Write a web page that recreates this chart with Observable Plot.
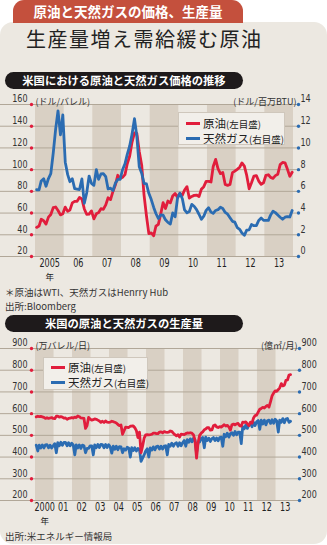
<!DOCTYPE html>
<html lang="ja">
<head>
<meta charset="utf-8">
<script src="https://cdn.jsdelivr.net/npm/d3@7"></script>
<script src="https://cdn.jsdelivr.net/npm/@observablehq/plot@0.6"></script>
<style>
  html, body { margin:0; padding:0; background:#ffffff; }
  #root { position:relative; width:327px; height:545px; overflow:hidden; font-family:"Noto Sans CJK JP","Noto Sans",sans-serif; color:#222; }
  .panel { position:absolute; left:0; top:22px; width:327px; height:522px; background:#ece8e1; border-radius:13px; }
  .tab { position:absolute; left:13px; top:0; width:230px; height:23px; background:#c4503d; border-radius:11px 11px 0 0; color:#fff; font-weight:700; font-size:13.5px; line-height:22px; text-align:center; white-space:nowrap; }
  .headline { position:absolute; left:26px; top:26px; font-size:20px; letter-spacing:1.5px; color:#222; white-space:nowrap; line-height:26px; }
  .pill { position:absolute; left:5px; width:238px; height:17px; background:#1e1a1b; border-radius:9px; color:#fff; font-weight:700; font-size:11.3px; line-height:17px; text-align:center; white-space:nowrap; }
  .chart { position:absolute; left:0; }
  .chart svg { overflow:visible; }
  .note { position:absolute; left:5px; font-size:9.5px; color:#333; white-space:nowrap; line-height:12px; }
  .legend { position:absolute; box-sizing:border-box; background:#f2efea; border:1px solid #cfc7bc; }
  .item { position:absolute; left:7px; white-space:nowrap; font-size:11.5px; line-height:14px; color:#222; }
  .item .sw { display:inline-block; width:14px; height:3px; vertical-align:middle; margin-right:3px; position:relative; top:-1px; }
  .item small { font-size:9.5px; }
</style>
</head>
<body>
<div id="root">
  <div class="panel"></div>
  <div class="tab">原油と天然ガスの価格、生産量</div>
  <div class="headline">生産量増え需給緩む原油</div>
  <div class="pill" style="top:72px">米国における原油と天然ガス価格の推移</div>
  <div class="chart" id="c1" style="top:90px"></div>
  <div class="legend" style="left:178px;top:112px;width:107px;height:33px">
    <div class="item" style="top:3px"><span class="sw" style="background:#e11d3c"></span>原油<small>(左目盛)</small></div>
    <div class="item" style="top:18px"><span class="sw" style="background:#2b6cb2"></span>天然ガス<small>(右目盛)</small></div>
  </div>
  <div class="note" style="top:286px">＊原油はWTI、天然ガスはHenrry Hub</div>
  <div class="note" style="top:299.5px">出所:Bloomberg</div>
  <div class="pill" style="top:315px">米国の原油と天然ガスの生産量</div>
  <div class="chart" id="c2" style="top:335px"></div>
  <div class="legend" style="left:43px;top:357px;width:105px;height:33px">
    <div class="item" style="top:2px"><span class="sw" style="background:#e11d3c"></span>原油<small>(左目盛)</small></div>
    <div class="item" style="top:17px"><span class="sw" style="background:#2b6cb2"></span>天然ガス<small>(右目盛)</small></div>
  </div>
  <div class="note" style="top:530px">出所:米エネルギー情報局</div>
</div>
<script>
// ---------- Price chart data (monthly, Jan 2005 - Dec 2013) ----------
const priceYears = [2005, 2006, 2007, 2008, 2009, 2010, 2011, 2012, 2013];
const priceYearLabels = ["2005", "06", "07", "08", "09", "10", "11", "12", "13"];
const priceShadedYears = [2005, 2007, 2009, 2011, 2013];
const oilPriceTicks = [20, 40, 60, 80, 100, 120, 140, 160];
const gasPriceTicks = [0, 2, 4, 6, 8, 10, 12, 14];
const wtiOil = [
  46.8, 48.0, 54.3, 53.0, 49.8, 56.3, 58.7, 65.0, 65.6, 62.4, 58.3, 59.4,
  65.5, 61.6, 62.7, 69.4, 70.8, 70.9, 74.4, 73.0, 63.8, 58.9, 59.1, 62.0,
  54.6, 59.3, 60.4, 64.0, 63.5, 67.5, 74.1, 72.4, 79.9, 85.8, 94.8, 91.7,
  93.0, 95.4, 105.4, 112.6, 125.4, 133.9, 133.4, 116.7, 104.1, 76.6, 57.3, 41.1,
  41.7, 39.1, 47.9, 49.6, 59.0, 69.6, 64.2, 71.1, 69.4, 75.7, 78.0, 74.5,
  78.3, 76.4, 81.2, 84.3, 73.7, 75.3, 76.3, 76.6, 75.2, 81.9, 84.3, 89.2,
  89.2, 88.6, 102.9, 109.5, 100.9, 96.3, 97.3, 86.3, 85.5, 86.3, 97.2, 98.6,
  100.3, 102.2, 106.2, 103.3, 94.7, 82.3, 87.9, 94.1, 94.5, 89.5, 86.5, 87.9,
  94.8, 95.3, 92.9, 92.0, 94.5, 95.8, 104.6, 106.6, 106.3, 100.5, 93.9, 97.6
];
const henryHubGas = [
  6.15, 6.14, 6.96, 7.16, 6.47, 7.18, 7.63, 9.53, 11.75, 13.42, 11.2, 13.05,
  8.69, 7.54, 6.89, 7.16, 6.25, 6.21, 6.17, 7.14, 4.90, 5.85, 7.41, 6.73,
  6.55, 8.00, 7.11, 7.60, 7.64, 7.35, 6.22, 6.29, 6.08, 6.74, 7.10, 7.11,
  7.99, 8.54, 9.41, 10.18, 11.27, 12.69, 11.09, 8.26, 7.67, 6.74, 6.68, 5.82,
  5.24, 4.52, 3.96, 3.50, 3.83, 3.80, 3.38, 3.14, 2.99, 4.01, 3.66, 5.35,
  5.83, 5.32, 4.29, 4.03, 4.14, 4.80, 4.63, 4.32, 3.89, 3.43, 3.71, 4.25,
  4.49, 4.09, 3.97, 4.24, 4.31, 4.54, 4.42, 4.06, 3.90, 3.57, 3.24, 3.17,
  2.67, 2.50, 2.17, 1.95, 2.43, 2.46, 2.95, 2.84, 2.85, 3.32, 3.54, 3.34,
  3.33, 3.33, 3.81, 4.17, 4.04, 3.83, 3.62, 3.43, 3.62, 3.68, 3.64, 4.24
];

// ---------- Production chart data (monthly, Jan 2000 - Oct 2013) ----------
const prodYears = [2000, 2001, 2002, 2003, 2004, 2005, 2006, 2007, 2008, 2009, 2010, 2011, 2012, 2013];
const prodYearLabels = ["2000", "01", "02", "03", "04", "05", "06", "07", "08", "09", "10", "11", "12", "13"];
const prodShadedYears = [2000, 2002, 2004, 2006, 2008, 2010, 2012];
const prodTicks = [200, 300, 400, 500, 600, 700, 800, 900];
const oilProd = [
  585, 588, 586, 587, 585, 583, 578, 581, 578, 580, 582, 578,
  577, 588, 589, 584, 586, 584, 579, 580, 574, 578, 579, 582,
  580, 584, 582, 589, 586, 580, 579, 578, 532, 545, 583, 575,
  570, 572, 576, 574, 570, 566, 560, 565, 559, 566, 561, 560,
  561, 565, 563, 560, 557, 550, 545, 548, 505, 521, 538, 537,
  536, 542, 543, 543, 535, 522, 490, 515, 420, 450, 487, 502,
  503, 502, 503, 505, 510, 510, 508, 508, 515, 516, 512, 517,
  515, 514, 515, 520, 518, 510, 503, 498, 503, 492, 506, 505,
  503, 508, 511, 510, 512, 510, 503, 478, 395, 466, 500, 510,
  516, 526, 529, 536, 535, 524, 525, 544, 548, 539, 536, 540,
  538, 544, 549, 543, 546, 539, 524, 549, 552, 548, 553, 555,
  544, 543, 561, 560, 562, 553, 545, 561, 556, 580, 591, 593,
  607, 620, 624, 629, 626, 633, 638, 630, 655, 682, 695, 705,
  703, 711, 719, 738, 728, 731, 753, 755, 778, 780
];
const gasProd = [
  455, 428, 455, 442, 456, 442, 456, 457, 443, 455, 442, 452,
  462, 420, 466, 452, 468, 454, 468, 468, 452, 466, 452, 464,
  456, 410, 456, 442, 456, 440, 455, 452, 420, 440, 440, 452,
  452, 410, 456, 443, 458, 444, 458, 457, 443, 458, 444, 457,
  447, 418, 450, 436, 450, 434, 448, 447, 420, 438, 432, 445,
  442, 400, 443, 430, 443, 428, 440, 435, 380, 395, 410, 428,
  438, 400, 442, 432, 447, 433, 448, 450, 437, 450, 437, 450,
  452, 410, 458, 450, 464, 450, 462, 466, 450, 466, 452, 466,
  476, 450, 480, 468, 484, 470, 486, 478, 420, 468, 470, 486,
  490, 443, 492, 476, 487, 472, 485, 490, 476, 488, 475, 490,
  492, 450, 505, 494, 510, 492, 508, 512, 500, 518, 503, 515,
  515, 462, 540, 530, 548, 532, 548, 555, 540, 560, 545, 562,
  568, 528, 570, 552, 570, 548, 567, 570, 555, 572, 556, 574,
  566, 515, 570, 560, 577, 558, 575, 578, 560, 565
];

const RED = "#e11d3c", BLUE = "#2b6cb2";
const NUM = '"Liberation Sans Narrow","DejaVu Sans Condensed","Roboto Condensed","DejaVu Sans",sans-serif';
const JP = '"Noto Sans CJK JP",sans-serif';
const yr = y => new Date(Date.UTC(y, 0, 1));
const monthRows = (start, values) => {
  const months = d3.utcMonth.range(yr(start), yr(start + 20));
  return values.map((v, i) => ({date: d3.utcDay.offset(months[i], 14), v}));
};

// horizontally condense the text nodes inside groups with a given font-size
function condense(svg, fontSize, sx) {
  svg.querySelectorAll(`g[font-size="${fontSize}"] text`).forEach(t => {
    const tr = t.getAttribute("transform");
    if (tr) {
      t.setAttribute("transform", tr + ` scale(${sx},1)`);
    } else {
      const x = +t.getAttribute("x") || 0;
      t.setAttribute("transform", `translate(${x},0) scale(${sx},1) translate(${-x},0)`);
    }
  });
}

function makeChart(o) {
  const [lo, hi] = o.yDomain;
  const yearRows = o.years.map((y, i) => ({year: y, label: o.yearLabels[i]}));
  const svg = Plot.plot({
    width: 327, height: o.height,
    marginLeft: 35, marginRight: o.marginRight, marginTop: o.marginTop, marginBottom: o.marginBottom,
    x: {type: "utc", domain: [yr(o.years[0]), yr(o.years[o.years.length - 1] + 1)], axis: null},
    y: {domain: o.yDomain, axis: null},
    style: {background: "transparent", overflow: "visible"},
    marks: [
      Plot.rect(o.shaded, {x1: d => yr(d), x2: d => yr(d + 1), y1: lo, y2: hi, fill: "#d9d0c4"}),
      Plot.ruleY(o.leftTicks, {stroke: "#b1a798", strokeWidth: 1, insetLeft: -35, insetRight: -5}),
      Plot.dot(o.leftTicks, {y: d => d, frameAnchor: "left", dx: -4, r: 1.7, fill: RED}),
      Plot.dot(o.rightTicks, {y: o.rightToLeft, frameAnchor: "right", dx: 5, r: 1.7, fill: BLUE}),
      Plot.text(o.leftTicks, {y: d => d, text: d => String(d), frameAnchor: "left", dx: -8, dy: -5.5, textAnchor: "end", fontSize: 10.5, fontFamily: NUM, fill: "#333"}),
      Plot.text(o.rightTicks, {y: o.rightToLeft, text: d => String(d), frameAnchor: "right", dx: 7, dy: -5.5, textAnchor: "start", fontSize: 10.5, fontFamily: NUM, fill: "#333"}),
      Plot.text([o.leftUnit], {text: d => d, frameAnchor: "top-left", dx: 0, dy: -5.5, textAnchor: "start", fontSize: 9, fontFamily: JP, fill: "#333"}),
      Plot.text([o.rightUnit], {text: d => d, frameAnchor: "top-right", dx: 3, dy: -5.5, textAnchor: "end", fontSize: 9, fontFamily: JP, fill: "#333"}),
      Plot.text(yearRows, {x: d => new Date(Date.UTC(d.year, 6, 1)), text: "label", frameAnchor: "bottom", dy: o.labelDy, fontSize: 11.5, fontFamily: NUM, fill: "#222"}),
      Plot.text(yearRows.slice(0, 1), {x: d => new Date(Date.UTC(d.year, 6, 1)), text: () => "年", frameAnchor: "bottom", dy: o.labelDy + o.nenGap, fontSize: 8.5, fontFamily: JP, fill: "#222"}),
      ...o.series.map(s => Plot.line(s.rows, {x: "date", y: "v", stroke: s.color, strokeWidth: 2.8, strokeLinejoin: "round", strokeLinecap: "round"}))
    ]
  });
  condense(svg, 11.5, 0.78);
  condense(svg, 10.5, 0.85);
  return svg;
}

// Right axis (gas price, $/MMBtu) is aligned to the left axis scale
const gasToLeft = d3.scaleLinear([gasPriceTicks[0], gasPriceTicks[gasPriceTicks.length - 1]],
                                 [oilPriceTicks[0], oilPriceTicks[oilPriceTicks.length - 1]]);

const chart1 = makeChart({
  height: 195, marginTop: 14, marginBottom: 29, marginRight: 34, labelDy: 10, nenGap: 13,
  yDomain: [20, 160],
  years: priceYears, yearLabels: priceYearLabels, shaded: priceShadedYears,
  leftTicks: oilPriceTicks, rightTicks: gasPriceTicks, rightToLeft: d => gasToLeft(d),
  leftUnit: "(ドル/バレル)", rightUnit: "(ドル/百万BTU)",
  series: [
    {rows: monthRows(2005, wtiOil), color: RED},
    {rows: monthRows(2005, henryHubGas).map(r => ({date: r.date, v: gasToLeft(r.v)})), color: BLUE}
  ]
});
document.getElementById("c1").appendChild(chart1);

const chart2 = makeChart({
  height: 195, marginTop: 13, marginBottom: 30, marginRight: 33, labelDy: 10, nenGap: 13,
  yDomain: [200, 900],
  years: prodYears, yearLabels: prodYearLabels, shaded: prodShadedYears,
  leftTicks: prodTicks, rightTicks: prodTicks, rightToLeft: d => d,
  leftUnit: "(万バレル/日)", rightUnit: "(億㎡/月)",
  series: [
    {rows: monthRows(2000, gasProd), color: BLUE},
    {rows: monthRows(2000, oilProd), color: RED}
  ]
});
document.getElementById("c2").appendChild(chart2);
</script>
</body>
</html>
